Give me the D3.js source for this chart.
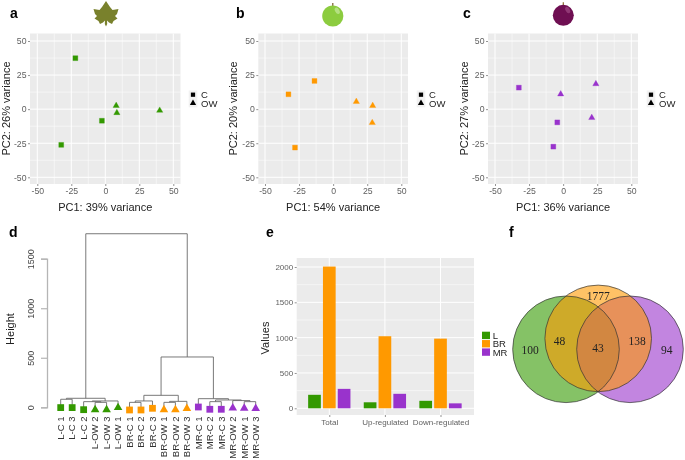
<!DOCTYPE html>
<html><head><meta charset="utf-8">
<script src="https://cdn.jsdelivr.net/npm/d3@7"></script>
<style>html,body{margin:0;padding:0;background:#fff}svg{display:block;filter:blur(.3px)}text{font-family:"Liberation Sans",Arial,sans-serif}</style>
</head><body><div id="chart"></div>
<script>
// ---------- data ----------
const seriesColors = {L:"#339900", BR:"#ff9900", MR:"#9933cc"};
const pcaTicks = [-50,-25,0,25,50];
const pcaMinor = [-37.5,-12.5,12.5,37.5];
const groups = ["C","OW"];

const pcaAx = [-22,-2.5,-32.4];   const pcaAy = [37.4,-8.5,-26.2];
const pcaAox = [8,8.5,40];        const pcaAoy = [2.5,-2.7,-1];
const pcaBx = [-13.7,-32.8,-28];  const pcaBy = [20.7,10.9,-28.2];
const pcaBox = [17,29,28.7];      const pcaBoy = [5.5,2.5,-10];
const pcaCx = [-32.5,-4.3,-7.2];  const pcaCy = [15.8,-9.7,-27.5];
const pcaCox = [-1.8,24,21];      const pcaCoy = [11,18.5,-6.3];

const leafLabels = ["L-C 1","L-C 3","L-C 2","L-OW 2","L-OW 3","L-OW 1","BR-C 1","BR-C 2","BR-C 3","BR-OW 1","BR-OW 2","BR-OW 3","MR-C 1","MR-C 2","MR-C 3","MR-OW 2","MR-OW 1","MR-OW 3"];
const leafHeights = [-3,-3,-24,-24,-24,-3,-27,-27,-10,-24,-24,-13,3,-20,-20,-7,-10,-13];
// hclust-style merge table: negative = leaf (1-based), positive = earlier merge (1-based)
const mergeLeft  = [-1,-4,-3, 3, 1,-7, 6,-10, 8, 7,-17,-16,-14,13,-13,10, 5];
const mergeRight = [-2,-5, 2,-6, 4,-8,-9,-11,-12, 9,-18, 11,-15,12, 14,15,16];
const mergeHeight= [81,50,57,64,91,50,64, 50,60,121, 57, 68, 57,74, 87,508,1752];
const dendroTicks = [0,500,1000,1500];

const barCategories = ["Total","Up-regulated","Down-regulated"];
const barSeries = ["L","BR","MR"];
const barL  = [191,85,106];
const barBR = [2006,1020,986];
const barMR = [275,205,70];
const barTicks = [0,500,1000,1500,2000];
const barMinor = [250,750,1250,1750];

const vennSets = ["L","MR","BR"];
const vennLabels = ["100","1777","94","48","138","43"];

// ---------- drawing ----------
const svg = d3.select("#chart").append("svg").attr("width",685).attr("height",460);
const tri = n=>d3.symbol().type(d3.symbolTriangle).size(n)();
const sq  = n=>d3.symbol().type(d3.symbolSquare).size(n)();
const plain = d=>String(d);

function panelLabel(t,x,y){
  svg.append("text").attr("x",x).attr("y",y).attr("font-size",14).attr("font-weight","bold").attr("fill","#000").text(t);
}
[["a",10,18],["b",236,18],["c",463,18],["d",9,237],["e",266,237],["f",509,237]].forEach(d=>panelLabel(...d));

function styleAxis(g){
  g.select(".domain").remove();
  g.selectAll(".tick line").attr("stroke","#666").attr("stroke-width",.7);
  g.selectAll("text").attr("fill","#5f5f5f");
}

function pca(opts){
  const {left,right,x0,x1,cx,cy,ox,oy,color,xlabel,ylabel,ylabX,legX}=opts;
  const top=33.5,bottom=184;
  const x=d3.scaleLinear().domain([-50,50]).range([x0,x1]);
  const y=d3.scaleLinear().domain([-50,50]).range([177.3,41]);
  const g=svg.append("g");
  g.append("rect").attr("x",left).attr("y",top).attr("width",right-left).attr("height",bottom-top).attr("fill","#ebebeb");
  g.selectAll(".mv").data(pcaMinor).join("line").attr("class","mv").attr("x1",x).attr("x2",x).attr("y1",top).attr("y2",bottom).attr("stroke","#fff").attr("stroke-width",.5);
  g.selectAll(".mh").data(pcaMinor).join("line").attr("class","mh").attr("y1",y).attr("y2",y).attr("x1",left).attr("x2",right).attr("stroke","#fff").attr("stroke-width",.5);
  g.selectAll(".gv").data(pcaTicks).join("line").attr("class","gv").attr("x1",x).attr("x2",x).attr("y1",top).attr("y2",bottom).attr("stroke","#fff").attr("stroke-width",1);
  g.selectAll(".gh").data(pcaTicks).join("line").attr("class","gh").attr("y1",y).attr("y2",y).attr("x1",left).attr("x2",right).attr("stroke","#fff").attr("stroke-width",1);
  g.append("g").attr("transform",`translate(0,${bottom})`).call(d3.axisBottom(x).tickValues(pcaTicks).tickFormat(plain).tickSize(2).tickPadding(1.5)).attr("font-size",8.7).call(styleAxis);
  g.append("g").attr("transform",`translate(${left},0)`).call(d3.axisLeft(y).tickValues(pcaTicks).tickFormat(plain).tickSize(2).tickPadding(1.5)).attr("font-size",8.7).call(styleAxis);
  cx.forEach((v,i)=>g.append("path").attr("d",sq(24)).attr("transform",`translate(${x(v)},${y(cy[i])})`).attr("fill",color).attr("stroke",color).attr("stroke-opacity",.3));
  ox.forEach((v,i)=>g.append("path").attr("d",tri(17)).attr("transform",`translate(${x(v)},${y(oy[i])})`).attr("fill",color).attr("stroke",color).attr("stroke-opacity",.3));
  g.append("text").attr("x",(left+right)/2).attr("y",210.5).attr("text-anchor","middle").attr("font-size",11).attr("fill","#222").text(xlabel);
  g.append("text").attr("transform",`translate(${ylabX},108.5) rotate(-90)`).attr("text-anchor","middle").attr("font-size",11).attr("fill","#222").text(ylabel);
  // legend
  groups.forEach((k,i)=>{
    const ly=94.7+i*8.4;
    g.append("rect").attr("x",legX-4.3).attr("y",ly-4.2).attr("width",8.6).attr("height",8.4).attr("fill","#f2f2f2");
    g.append("path").attr("d",i?tri(17):sq(18)).attr("transform",`translate(${legX},${ly})`).attr("fill","#000");
    g.append("text").attr("x",legX+8).attr("y",ly+3.4).attr("font-size",9.5).attr("fill","#222").text(k);
  });
}
pca({left:30,right:180.5,x0:37.3,x1:173.3,cx:pcaAx,cy:pcaAy,ox:pcaAox,oy:pcaAoy,color:seriesColors.L,xlabel:"PC1: 39% variance",ylabel:"PC2: 26% variance",ylabX:9.5,legX:193});
pca({left:258.3,right:408,x0:265,x1:401.3,cx:pcaBx,cy:pcaBy,ox:pcaBox,oy:pcaBoy,color:seriesColors.BR,xlabel:"PC1: 54% variance",ylabel:"PC2: 20% variance",ylabX:236.5,legX:421});
pca({left:488,right:638,x0:495,x1:631.3,cx:pcaCx,cy:pcaCy,ox:pcaCox,oy:pcaCoy,color:seriesColors.MR,xlabel:"PC1: 36% variance",ylabel:"PC2: 27% variance",ylabX:467.5,legX:651});

// icons
const leafHalf=[[0,-13.5],[4,-7.5],[6.5,-4.5],[12.5,-5.5],[11,-0.5],[9,1.5],[11.5,4],[7.5,6.5],[6,9.5],[3,8],[1,6],[1.2,9.5],[0,12]];
const leafPts=leafHalf.concat(leafHalf.slice(0,-1).reverse().slice(0,-1).map(p=>[-p[0],p[1]]));
svg.append("path").attr("transform","translate(106,14.5)").attr("d",d3.line().curve(d3.curveLinearClosed)(leafPts)).attr("fill","#79812c");
function fruit(cx,cy,r,col,hi,stem){
  svg.append("path").attr("d",`M${cx},${cy-r-2.5}L${cx},${cy-r+1}`).attr("stroke",stem).attr("stroke-width",1.2);
  svg.append("circle").attr("cx",cx).attr("cy",cy).attr("r",r).attr("fill",col);
  svg.append("ellipse").attr("cx",cx+r*.42).attr("cy",cy-r*.5).attr("rx",r*.2).attr("ry",r*.33).attr("transform",`rotate(-30 ${cx+r*.42} ${cy-r*.5})`).attr("fill",hi).attr("opacity",.7);
}
fruit(332.8,16,10.6,"#8ccc3f","#c6e8a0","#7a5a2a");
fruit(563.3,15.3,10.5,"#6f0f52","#a04a85","#8a6a2a");

// dendrogram
{
  const y=d3.scaleLinear().domain([0,1500]).range([407.3,258.7]);
  const x=d3.scaleLinear().domain([0,17]).range([60.7,255.7]);
  const g=svg.append("g");
  const ax=g.append("g").attr("transform","translate(47,0)").call(d3.axisLeft(y).tickValues(dendroTicks).tickFormat(plain).tickSize(6).tickPadding(4));
  ax.attr("font-size",9);
  ax.select(".domain").attr("stroke","#b5b5b5").attr("stroke-width",1.3);
  ax.selectAll(".tick line").attr("stroke","#b5b5b5").attr("stroke-width",1.2);
  ax.selectAll("text").attr("fill","#444")
    .attr("text-anchor","middle").attr("x",0).attr("y",0).attr("dy",null)
    .attr("transform","translate(-13,0) rotate(-90)");
  g.append("text").attr("transform","translate(14,329) rotate(-90)").attr("text-anchor","middle").attr("font-size",11).attr("fill","#222").text("Height");
  const placed=[];
  const node=r=> r<0 ? {pos:-r-1,h:leafHeights[-r-1]} : placed[r-1];
  const path=d3.path();
  mergeLeft.forEach((l,i)=>{
    const a=node(l), b=node(mergeRight[i]), h=mergeHeight[i];
    path.moveTo(x(a.pos),y(a.h)); path.lineTo(x(a.pos),y(h)); path.lineTo(x(b.pos),y(h)); path.lineTo(x(b.pos),y(b.h));
    placed.push({pos:(a.pos+b.pos)/2,h});
  });
  g.append("path").attr("d",path.toString()).attr("fill","none").attr("stroke","#6a6a6a").attr("stroke-width",.9);
  leafLabels.forEach((lab,i)=>{
    const s=lab.split("-")[0], isOW=lab.includes("OW");
    g.append("path").attr("d",isOW?tri(32):sq(46)).attr("transform",`translate(${x(i)},${y(leafHeights[i])})`).attr("fill",seriesColors[s]);
    g.append("text").attr("transform",`translate(${x(i)+3.3},416.5) rotate(-90)`).attr("text-anchor","end").attr("font-size",9.5).attr("fill","#333").text(lab);
  });
}

// bars
{
  const L=296.7,R=474,T=258,B=415;
  const y=d3.scaleLinear().domain([0,2000]).range([408.3,267]);
  const x=d3.scalePoint().domain(barCategories).range([329.3,440.5]);
  const inner=d3.scaleBand().domain(barSeries).range([-21.15,21.15]).paddingInner(.142).paddingOuter(0);
  const vals={L:barL,BR:barBR,MR:barMR};
  const g=svg.append("g");
  g.append("rect").attr("x",L).attr("y",T).attr("width",R-L).attr("height",B-T).attr("fill","#ebebeb");
  g.selectAll(".m").data(barMinor).join("line").attr("class","m").attr("x1",L).attr("x2",R).attr("y1",y).attr("y2",y).attr("stroke","#fff").attr("stroke-width",.5);
  g.selectAll(".h").data(barTicks).join("line").attr("class","h").attr("x1",L).attr("x2",R).attr("y1",y).attr("y2",y).attr("stroke","#fff");
  g.selectAll(".v").data(barCategories).join("line").attr("class","v").attr("x1",x).attr("x2",x).attr("y1",T).attr("y2",B).attr("stroke","#fff");
  g.append("g").attr("transform",`translate(0,${B})`).call(d3.axisBottom(x).tickSize(2).tickPadding(2)).attr("font-size",8).call(styleAxis);
  g.append("g").attr("transform",`translate(${L},0)`).call(d3.axisLeft(y).tickValues(barTicks).tickSize(2).tickFormat(plain).tickPadding(1.5)).attr("font-size",8).call(styleAxis);
  barSeries.forEach(s=>{
    g.selectAll(".b"+s).data(barCategories).join("rect").attr("class","b"+s)
      .attr("x",c=>x(c)+inner(s)).attr("width",inner.bandwidth())
      .attr("y",(c,i)=>y(vals[s][i])).attr("height",(c,i)=>y(0)-y(vals[s][i]))
      .attr("fill",seriesColors[s]);
  });
  g.append("text").attr("transform","translate(269,338) rotate(-90)").attr("text-anchor","middle").attr("font-size",11).attr("fill","#222").text("Values");
  barSeries.forEach((s,i)=>{
    const ly=331.7+i*8.35;
    g.append("rect").attr("x",482).attr("y",ly).attr("width",8).attr("height",7.4).attr("fill",seriesColors[s]);
    g.append("text").attr("x",492.7).attr("y",ly+7.2).attr("font-size",9.5).attr("fill","#222").text(s);
  });
}

// venn
{
  const r=53.3;
  const centers={L:[566,349.3],BR:[598.2,338.4],MR:[630,349.3]};
  const g=svg.append("g");
  vennSets.forEach(s=>{
    g.append("circle").attr("cx",centers[s][0]).attr("cy",centers[s][1]).attr("r",r)
      .attr("fill",seriesColors[s]).attr("fill-opacity",.6);
  });
  vennSets.forEach(s=>{
    g.append("circle").attr("cx",centers[s][0]).attr("cy",centers[s][1]).attr("r",r)
      .attr("fill","none").attr("stroke","#333").attr("stroke-width",.7);
  });
  const spots=[[530,349.5],[598.3,296],[666.7,349.5],[559.5,341],[637,341],[598,347.5]];
  vennLabels.forEach((t,i)=>{
    g.append("text").attr("x",spots[i][0]).attr("y",spots[i][1]).attr("dy",".35em").attr("text-anchor","middle")
      .attr("font-size",11.5).attr("fill","#222").style("font-family",'"Liberation Serif",serif').text(t);
  });
}
</script></body></html>
